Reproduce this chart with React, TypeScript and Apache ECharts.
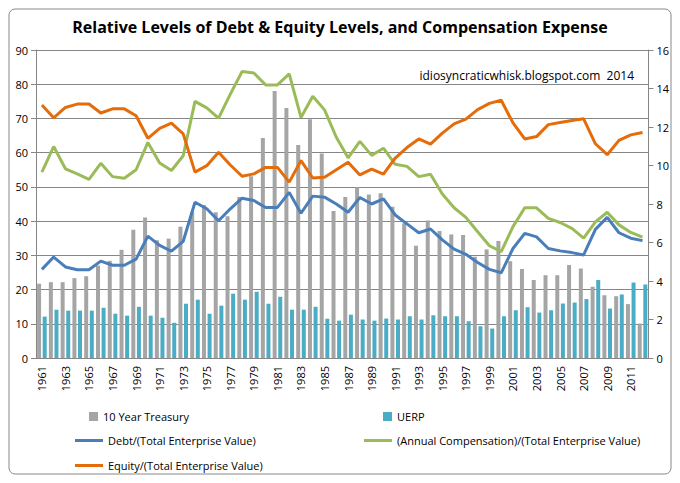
import React, { useEffect, useRef } from "react";
import * as echarts from "echarts";

const years: string[] = [];
for (let y = 1961; y <= 2012; y++) years.push(String(y));

const treasury = [3.86,3.94,3.94,4.15,4.25,4.8,5.05,5.62,6.66,7.3,6.12,6.2,6.82,7.57,7.95,7.57,7.37,8.37,9.44,11.43,13.87,12.99,11.07,12.4,10.62,7.64,8.37,
  8.87,8.5,8.56,7.86,7.0,5.83,7.14,6.6,6.42,6.39,5.26,5.64,6.08,5.03,4.62,4.05,4.3,4.3,4.83,4.65,3.7,3.26,3.21,2.8,1.79];
const uerp = [2.15,2.51,2.46,2.46,2.46,2.61,2.3,2.2,2.66,2.2,2.09,1.83,2.82,3.03,2.3,2.72,3.34,3.03,3.44,2.82,3.18,2.51,2.51,2.66,2.04,1.94,2.25,
  2.0,1.94,2.05,2.0,2.17,2.0,2.22,2.17,2.17,1.91,1.65,1.53,2.17,2.48,2.64,2.36,2.48,2.83,2.88,3.06,4.05,2.57,3.3,3.92,3.82];
const debt = [25.9,29.5,26.6,25.8,25.8,28.3,27.1,27.1,28.9,35.6,32.9,31.2,34.1,45.5,43.6,40.1,43.6,46.7,46.0,44.0,44.0,48.4,42.3,47.3,47.0,45.0,42.6,
  46.9,45.0,46.5,41.8,39.2,36.6,37.7,34.5,31.8,30.3,27.9,25.9,24.9,32.0,36.4,35.4,32.0,31.3,30.8,30.1,37.6,41.1,36.6,35.0,34.3];
const equity = [73.9,70.2,73.2,74.2,74.2,71.6,72.8,72.8,70.8,64.2,67.1,68.6,65.5,54.3,56.2,60.1,56.4,53.1,53.8,55.7,55.7,51.4,57.7,52.6,52.8,55.0,57.2,
  53.5,55.2,53.7,58.4,61.5,64.0,62.5,65.7,68.4,69.8,72.6,74.4,75.3,68.7,64.0,64.7,68.2,68.8,69.4,69.9,62.6,59.4,63.6,65.2,65.9];
const comp = [54.3,61.8,55.3,53.8,52.2,56.9,53.0,52.5,55.0,63.0,57.0,54.8,59.1,75.0,73.1,70.1,77.1,83.7,83.3,79.8,79.8,83.0,70.3,76.5,72.5,64.5,58.5,
  63.3,59.2,61.3,56.6,56.0,53.0,53.7,47.9,43.9,41.1,36.9,32.8,31.1,38.4,43.9,43.9,40.8,39.6,37.9,35.0,39.8,42.6,38.9,36.7,35.3];

const FONT = "Open Sans";

export default function App() {
  const ref = useRef<HTMLDivElement>(null);
  useEffect(() => {
    const chart = echarts.init(ref.current!, null, { renderer: "svg" });
    const leg = (names: string[], left: number, top: number, bar: boolean) => ({
      data: names, left, top, icon: "rect", itemWidth: bar ? 9 : 28, itemHeight: bar ? 9 : 3,
      itemGap: 0, orient: "vertical", textStyle: { fontFamily: FONT, fontSize: 11, color: "#000" },
    });
    chart.setOption({
      animation: false,
      title: { text: "Relative Levels of Debt & Equity Levels, and Compensation Expense", left: "center", top: 6,
        textStyle: { fontFamily: FONT, fontSize: 16, fontWeight: "bold", color: "#000" } },
      graphic: [
        { type: "rect", shape: { x: 1, y: 1, width: 662, height: 465, r: 6 }, style: { fill: "none", stroke: "#888", lineWidth: 1 } },
        { type: "text", right: 38, top: 61, style: { text: "idiosyncraticwhisk.blogspot.com  2014", font: `12px '${FONT}'`, fill: "#000" } },
      ],
      legend: [
        leg(["10 Year Treasury"], 76, 398, true),
        leg(["UERP"], 370, 398, true),
        leg(["Debt/(Total Enterprise Value)"], 62, 422, false),
        leg(["(Annual Compensation)/(Total Enterprise Value)"], 351, 422, false),
        leg(["Equity/(Total Enterprise Value)"], 62, 447, false),
      ],
      grid: { left: 28, right: 22, top: 42, bottom: 117, containLabel: false },
      xAxis: {
        type: "category", data: years,
        axisLine: { lineStyle: { color: "#868686" } },
        axisTick: { interval: 1, lineStyle: { color: "#868686" } },
        axisLabel: { interval: 1, rotate: 90, fontFamily: FONT, fontSize: 11, color: "#000" },
      },
      yAxis: [
        { type: "value", min: 0, max: 90, interval: 10, axisLine: { show: true, lineStyle: { color: "#868686" } },
          axisTick: { show: true, lineStyle: { color: "#868686" } }, splitLine: { lineStyle: { color: "#868686" } },
          axisLabel: { fontFamily: FONT, fontSize: 11, color: "#000" } },
        { type: "value", min: 0, max: 16, interval: 2, axisLine: { show: true, lineStyle: { color: "#868686" } },
          axisTick: { show: true, lineStyle: { color: "#868686" } }, splitLine: { show: false },
          axisLabel: { fontFamily: FONT, fontSize: 11, color: "#000" } },
      ],
      series: [
        { name: "10 Year Treasury", type: "bar", yAxisIndex: 1, data: treasury, barWidth: 4, barGap: "40%", itemStyle: { color: "#a5a5a5" } },
        { name: "UERP", type: "bar", yAxisIndex: 1, data: uerp, barWidth: 4, itemStyle: { color: "#4bacc6" } },
        { name: "Debt/(Total Enterprise Value)", type: "line", data: debt, symbol: "none", lineStyle: { width: 3, color: "#4a7ebb" }, itemStyle: { color: "#4a7ebb" } },
        { name: "(Annual Compensation)/(Total Enterprise Value)", type: "line", data: comp, symbol: "none", lineStyle: { width: 3, color: "#9bbb59" }, itemStyle: { color: "#9bbb59" } },
        { name: "Equity/(Total Enterprise Value)", type: "line", data: equity, symbol: "none", lineStyle: { width: 3, color: "#e46c0a" }, itemStyle: { color: "#e46c0a" } },
      ],
    });
    return () => chart.dispose();
  }, []);
  return <div ref={ref} style={{ width: 664, height: 467 }} />;
}
